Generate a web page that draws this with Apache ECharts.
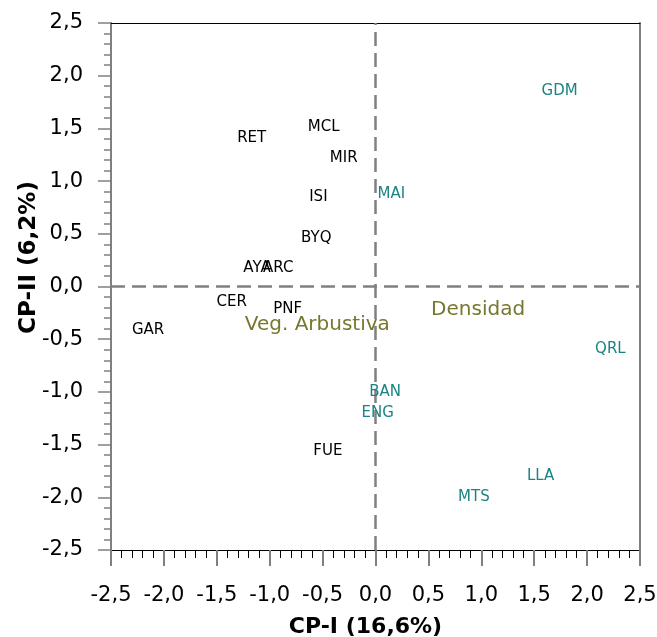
<!DOCTYPE html>
<html>
<head>
<meta charset="utf-8">
<script src="https://cdn.jsdelivr.net/npm/echarts@6/dist/echarts.min.js"></script>
<style>
  html, body { margin: 0; padding: 0; background: #fff; }
  #chart { width: 657px; height: 637px; }
</style>
</head>
<body>
<div id="chart"></div>
<script>
// Sites (black labels)
const siteNames = ['MCL', 'RET', 'MIR', 'ISI', 'BYQ', 'AYA', 'ARC', 'CER', 'PNF', 'GAR', 'FUE'];
const siteX = [-0.49, -1.17, -0.30, -0.54, -0.56, -1.12, -0.92, -1.36, -0.83, -2.15, -0.45];
const siteY = [1.51, 1.41, 1.22, 0.85, 0.46, 0.17, 0.17, -0.15, -0.21, -0.41, -1.56];

// Sites (teal labels)
const tealNames = ['GDM', 'MAI', 'QRL', 'BAN', 'ENG', 'LLA', 'MTS'];
const tealX = [1.74, 0.15, 2.22, 0.09, 0.02, 1.56, 0.93];
const tealY = [1.85, 0.88, -0.59, -1.00, -1.20, -1.80, -2.00];

// Environmental variables
const varNames = ['Veg. Arbustiva', 'Densidad'];
const varX = [-0.55, 0.97];
const varY = [-0.36, -0.22];

// Axis ticks
const axisMin = -2.5;
const axisMax = 2.5;
const axisStep = 0.5;

const FONT = 'DejaVu Sans';
const GRAY = '#808080';
const fmt = v => v.toFixed(1).replace('.', ',');
const pts = (names, xs, ys) => names.map((n, i) => ({ name: n, value: [xs[i], ys[i]] }));

const labelSeries = (names, xs, ys, color, size) => ({
  type: 'scatter',
  data: pts(names, xs, ys),
  symbol: 'circle',
  symbolSize: 1,
  itemStyle: { color: 'rgba(0,0,0,0)', opacity: 1 },
  silent: true,
  label: {
    show: true,
    position: 'inside',
    formatter: p => p.name,
    color: color,
    opacity: 1,
    fontFamily: FONT,
    fontSize: size
  },
  z: 5
});

const scale = { type: 'value', min: axisMin, max: axisMax, interval: axisStep };
const nameStyle = { fontFamily: FONT, fontWeight: 'bold', fontSize: 22, color: '#000' };
const tickLabel = { formatter: fmt, fontFamily: FONT, fontSize: 21, color: '#000' };
const frameAxis = (pos, color, width) => Object.assign({}, scale, {
  position: pos,
  axisLine: { show: true, onZero: false, lineStyle: { color: color, width: width } },
  axisTick: { show: false },
  axisLabel: { show: false },
  splitLine: { show: false }
});

const chart = echarts.init(document.getElementById('chart'), null, { renderer: 'canvas' });
chart.setOption({
  animation: false,
  grid: { left: 111, right: 17, top: 23, bottom: 87, outerBoundsMode: 'none', containLabel: false },
  xAxis: [
    Object.assign({}, scale, {
      position: 'bottom',
      name: 'CP-I (16,6%)',
      nameLocation: 'middle',
      nameGap: 66,
      nameMoveOverlap: false,
      nameTextStyle: Object.assign({}, nameStyle, { padding: [0, 20, 0, 0] }),
      axisLine: { show: true, onZero: false, lineStyle: { color: '#000', width: 1 } },
      axisTick: { show: true, length: 16, lineStyle: { color: GRAY, width: 2 } },
      minorTick: { show: true, splitNumber: 5, length: 8, lineStyle: { color: '#000', width: 1 } },
      splitLine: { show: false },
      axisLabel: Object.assign({}, tickLabel, { margin: 35 })
    }),
    frameAxis('top', '#000', 1)
  ],
  yAxis: [
    Object.assign({}, scale, {
      position: 'left',
      name: 'CP-II (6,2%)',
      nameLocation: 'middle',
      nameGap: 70,
      nameMoveOverlap: false,
      nameTextStyle: Object.assign({}, nameStyle, { fontSize: 23, padding: [0, 0, 0, 58] }),
      axisLine: { show: true, onZero: false, lineStyle: { color: GRAY, width: 2 } },
      axisTick: { show: true, length: 13, lineStyle: { color: GRAY, width: 1.5 } },
      minorTick: { show: true, splitNumber: 5, length: 7, lineStyle: { color: GRAY, width: 1.5 } },
      splitLine: { show: false },
      axisLabel: Object.assign({}, tickLabel, { margin: 28 })
    }),
    frameAxis('right', GRAY, 2)
  ],
  series: [
    Object.assign(labelSeries(siteNames, siteX, siteY, '#000000', 15), {
      markLine: {
        silent: true,
        symbol: 'none',
        label: { show: false },
        lineStyle: { color: GRAY, type: [14, 7], width: 2.5, opacity: 1 },
        data: [{ xAxis: 0 }, { yAxis: 0 }]
      }
    }),
    labelSeries(tealNames, tealX, tealY, '#1b8383', 15),
    labelSeries(varNames, varX, varY, '#77772f', 20)
  ]
});
</script>
</body>
</html>
